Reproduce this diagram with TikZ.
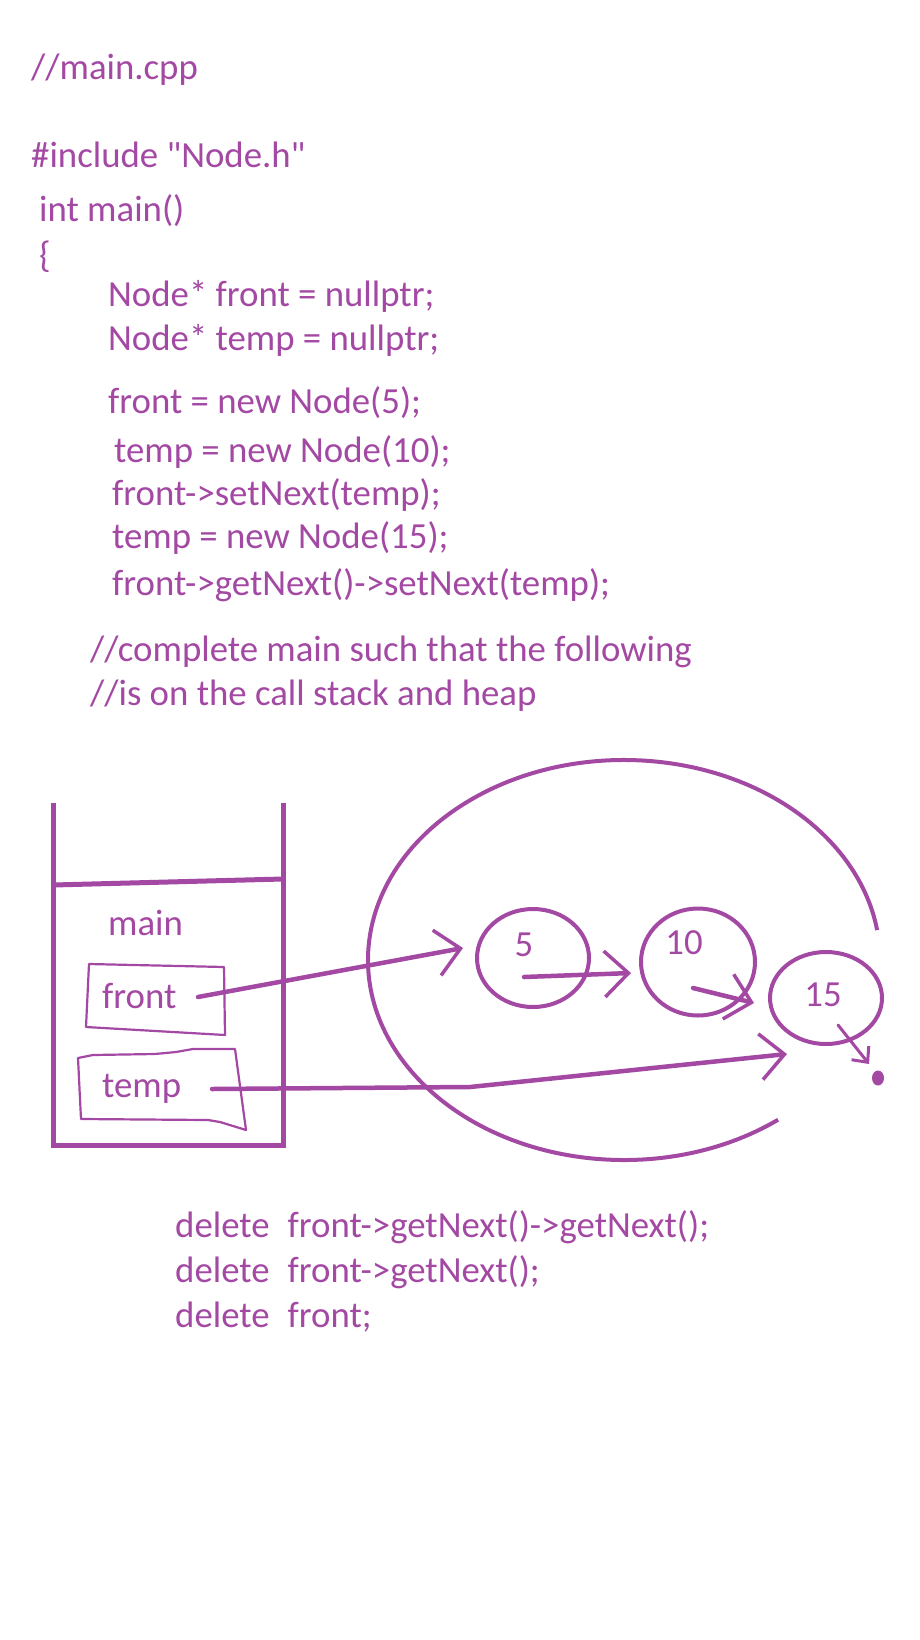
\documentclass[tikz,border=0pt]{standalone}
\usepackage{fontspec}
\setmainfont{Carlito}
\newfontfamily\codefont{Carlito}
\usepackage{xcolor}
\usepackage{tikz}
\usetikzlibrary{shapes.geometric,arrows.meta}
\definecolor{mspurple}{HTML}{A349A4}

\begin{document}
\begin{tikzpicture}[
  x=1pt, y=-1pt,
  code/.style={anchor=base west, inner sep=0pt, text=mspurple,
               font=\codefont\fontsize{36.8}{44}\selectfont},
  wall/.style={draw=mspurple, line width=5pt},
  varbox/.style={draw=mspurple, line width=2.2pt, line join=round},
  heapnode/.style={ellipse, draw=mspurple, line width=4pt, inner sep=0pt},
  nilnode/.style={ellipse, fill=mspurple, inner sep=0pt,
                  minimum width=12pt, minimum height=15pt},
  ptr/.style={draw=mspurple, line width=4.5pt, line cap=round, line join=round,
              -{Straight Barb[length=24pt, width=46pt, line width=3.5pt]}},
  nilptr/.style={draw=mspurple, line width=3pt, line cap=round,
                 -{Straight Barb[length=12pt, width=22pt, line width=3pt]}},
]
  \fill[white] (0,0) rectangle (920,1640);
  \useasboundingbox (0,0) rectangle (920,1640);

  \node[code] (l1) at (31,80) {//main.cpp};
  \node[code] (l2) at (31,168) {\#include "Node.h"};
  \node[code] (l3) at (39,222) {int main()};
  \node[code] (l4) at (39,267) {\{};
  \node[code] (l5) at (108,306) {Node* front = nullptr;};
  \node[code] (l6) at (108,350) {Node* temp = nullptr;};
  \node[code] (l7) at (108,413) {front = new Node(5);};
  \node[code] (l8) at (114,462) {temp = new Node(10);};
  \node[code] (l9) at (112,505) {front->setNext(temp);};
  \node[code] (l10) at (112,548) {temp = new Node(15);};
  \node[code] (l11) at (112,595) {front->getNext()->setNext(temp);};
  \node[code] (l12) at (90,661) {//complete main such that the following};
  \node[code] (l13) at (90,705) {//is on the call stack and heap};

  \draw[wall] (53,803) -- (53,1145) -- (283,1145) -- (283,803);
  \draw[wall] (53,885) -- (283,879);
  \node[code] (fmain) at (108,935) {main};
  \node[code] (vfront) at (102,1008) {front};
  \draw[varbox] (89,964) -- (224,967) -- (225,1035) -- (86,1027) -- cycle;
  \node[code] (vtemp) at (102,1097) {temp};
  \draw[varbox] (78,1058) -- (93,1055) -- (155,1054) -- (176,1052) -- (193,1049)
    -- (235,1049) -- (246,1130) -- (220,1122) -- (208,1120) -- (81,1119) -- cycle;

  \draw[mspurple, line width=4pt] (624,960) ++(-53:256pt and 200pt)
    arc[start angle=-53, end angle=-351.4, x radius=256pt, y radius=200pt];

  \node[heapnode, minimum width=112pt, minimum height=98pt] (n5) at (533,958) {};
  \node[heapnode, minimum width=114pt, minimum height=107pt] (n10) at (698,962) {};
  \node[heapnode, minimum width=112pt, minimum height=92pt] (n15) at (826,998) {};
  \node[code, anchor=center] (v5) at (524,945) {5};
  \node[code, anchor=center] (v10) at (684,943) {10};
  \node[code, anchor=center] (v15) at (823,995) {15};
  \node[nilnode] (nil) at (878,1078) {};

  \coordinate (frontptr) at (198,997);
  \coordinate (tempptr) at (212,1089);
  \coordinate (tempbend) at (470,1087);
  \draw[ptr] (frontptr) -- ([shift={(-12,-10)}]n5.west);
  \draw[ptr] ([shift={(-9,19)}]n5.center) -- ([shift={(-8,11)}]n10.west);
  \draw[ptr] ([shift={(-5,26)}]n10.center) -- ([shift={(-14,5)}]n15.west);
  \draw[ptr] (tempptr) -- (tempbend) -- ([shift={(-39,56)}]n15.center);
  \draw[nilptr] ([shift={(12,27)}]n15.center) -- ([shift={(-9,-14)}]nil.center);

  \node[code] (d1) at (175,1237) {delete\hspace{18pt}front->getNext()->getNext();};
  \node[code] (d2) at (175,1282) {delete\hspace{18pt}front->getNext();};
  \node[code] (d3) at (175,1327) {delete\hspace{18pt}front;};
\end{tikzpicture}
\end{document}
